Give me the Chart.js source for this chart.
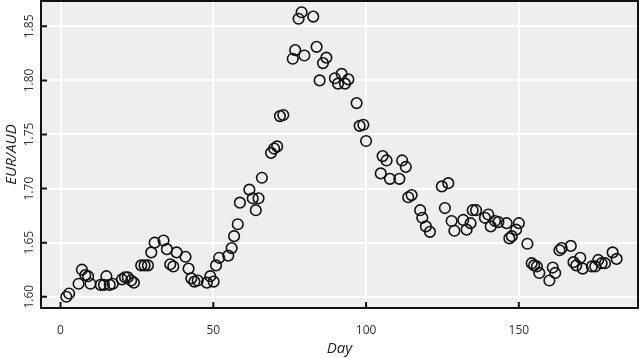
<!DOCTYPE html>
<html>
<head>
<meta charset="utf-8">
<script src="https://cdn.jsdelivr.net/npm/chart.js@4/dist/chart.umd.min.js"></script>
<style>
  body { margin: 0; background: #fff; }
  #chart { display: block; }
</style>
</head>
<body>
<canvas id="chart" width="640" height="358"></canvas>
<script>
// --- data ---
const days = [
  1.9, 2.8, 5.9, 7.0, 8.1, 9.0, 9.8, 13.1, 14.2, 15.0, 16.1, 17.1,
  20.1, 21.1, 22.0, 23.1, 24.0, 26.4, 27.5, 28.6, 29.7, 30.8, 33.7, 34.8,
  35.9, 36.9, 38.0, 40.9, 41.9, 42.8, 43.8, 44.9, 47.9, 49.0, 50.1, 50.9,
  51.9, 54.9, 56.0, 56.8, 58.0, 58.7, 61.8, 62.9, 63.9, 64.8, 65.9, 68.9,
  69.9, 70.9, 71.8, 72.9, 76.0, 76.8, 77.9, 78.9, 79.8, 82.7, 83.8, 84.8,
  85.9, 87.0, 89.8, 90.8, 92.0, 93.1, 94.2, 96.9, 97.9, 99.1, 100.0, 104.8,
  105.4, 106.7, 107.8, 110.9, 111.8, 113.0, 113.8, 114.9, 117.7, 118.4, 119.6, 120.9,
  124.8, 126.9, 125.8, 128.0, 128.9, 131.8, 132.9, 134.2, 134.9, 136.0, 138.9, 140.0,
  140.8, 142.2, 143.3, 146.0, 146.9, 147.7, 149.1, 150.0, 152.8, 154.2, 155.0, 155.9,
  156.7, 160.0, 161.1, 161.9, 163.3, 164.0, 167.0, 167.9, 168.8, 170.1, 170.9, 173.9,
  175.0, 176.0, 177.1, 178.2, 180.7, 182.0
];
const rates = [
  1.600, 1.603, 1.612, 1.625, 1.620, 1.619, 1.612, 1.611, 1.611, 1.619, 1.611, 1.612,
  1.616, 1.618, 1.618, 1.615, 1.613, 1.629, 1.629, 1.629, 1.641, 1.650, 1.652, 1.644,
  1.630, 1.628, 1.641, 1.637, 1.626, 1.617, 1.614, 1.615, 1.613, 1.619, 1.614, 1.629,
  1.636, 1.638, 1.645, 1.656, 1.667, 1.687, 1.699, 1.691, 1.680, 1.691, 1.710, 1.733,
  1.737, 1.739, 1.767, 1.768, 1.820, 1.828, 1.857, 1.863, 1.823, 1.859, 1.831, 1.800,
  1.816, 1.821, 1.802, 1.797, 1.806, 1.797, 1.801, 1.779, 1.758, 1.759, 1.744, 1.714,
  1.730, 1.726, 1.709, 1.709, 1.726, 1.720, 1.692, 1.694, 1.680, 1.673, 1.665, 1.660,
  1.702, 1.705, 1.682, 1.670, 1.661, 1.671, 1.662, 1.668, 1.680, 1.680, 1.673, 1.676,
  1.665, 1.670, 1.669, 1.668, 1.654, 1.656, 1.662, 1.668, 1.649, 1.631, 1.629, 1.628,
  1.622, 1.615, 1.627, 1.622, 1.643, 1.645, 1.647, 1.632, 1.629, 1.636, 1.626, 1.628,
  1.628, 1.634, 1.631, 1.631, 1.641, 1.635
];
const xTicks = [0, 50, 100, 150];
const yTicks = [1.60, 1.65, 1.70, 1.75, 1.80, 1.85];

const FONT = "'Open Sans', 'DejaVu Sans', sans-serif";

// grey panel underneath, black frame + short inward ticks on top
const panelPlugin = {
  id: 'panel',
  beforeDraw(chart) {
    const { ctx, chartArea: a } = chart;
    ctx.save();
    ctx.fillStyle = '#eeeeee';
    ctx.fillRect(a.left, a.top, a.right - a.left, a.bottom - a.top);
    ctx.restore();
  },
  afterDraw(chart) {
    const { ctx, chartArea: a, scales } = chart;
    ctx.save();
    ctx.strokeStyle = '#111';
    ctx.lineWidth = 2;
    ctx.strokeRect(a.left, a.top, a.right - a.left, a.bottom - a.top);
    ctx.beginPath();
    xTicks.forEach(v => {
      const x = scales.x.getPixelForValue(v);
      ctx.moveTo(x, a.bottom);
      ctx.lineTo(x, a.bottom - 6);
    });
    yTicks.forEach(v => {
      const y = scales.y.getPixelForValue(v);
      ctx.moveTo(a.left, y);
      ctx.lineTo(a.left + 6, y);
    });
    ctx.stroke();
    ctx.restore();
  }
};

// keep the axis boxes at fixed sizes, no extra label padding
function fixBox(s, w, h) {
  if (w != null) s.width = w;
  if (h != null) s.height = h;
  s.paddingTop = 0; s.paddingBottom = 0;
  s.paddingLeft = 0; s.paddingRight = 0;
}

new Chart(document.getElementById('chart'), {
  type: 'scatter',
  data: {
    datasets: [{
      data: days.map((d, i) => ({ x: d, y: rates[i] })),
      pointRadius: 5.3,
      pointHoverRadius: 5.3,
      borderWidth: 1.6,
      borderColor: '#111',
      backgroundColor: 'rgba(0,0,0,0)',
    }]
  },
  options: {
    responsive: false,
    animation: false,
    layout: { autoPadding: false, padding: { top: 1, right: 2, left: 0, bottom: 0 } },
    plugins: { legend: { display: false }, tooltip: { enabled: false } },
    scales: {
      x: {
        type: 'linear',
        min: -6.4,
        max: 189,
        afterFit: s => fixBox(s, null, 50),
        afterBuildTicks: s => { s.ticks = xTicks.map(v => ({ value: v })); },
        grid: { color: '#ffffff', lineWidth: 2, drawTicks: false },
        border: { display: false },
        ticks: { padding: 15, color: '#333', font: { family: FONT, size: 12 }, maxRotation: 0 },
        title: {
          display: true, text: 'Day', color: '#222',
          font: { family: FONT, size: 15, style: 'italic' },
          padding: { top: 0, bottom: 0 }
        }
      },
      y: {
        type: 'linear',
        min: 1.5896,
        max: 1.8734,
        afterFit: s => fixBox(s, 41, null),
        afterBuildTicks: s => { s.ticks = yTicks.map(v => ({ value: v })); },
        grid: { color: '#ffffff', lineWidth: 2, drawTicks: false },
        border: { display: false },
        ticks: {
          padding: 0, color: '#333', font: { family: FONT, size: 12 },
          minRotation: 90, maxRotation: 90, crossAlign: 'center',
          callback: v => v.toFixed(2)
        },
        title: {
          display: true, text: 'EUR/AUD', color: '#222',
          font: { family: FONT, size: 15, style: 'italic' },
          padding: { top: 3, bottom: 0 }
        }
      }
    }
  },
  plugins: [panelPlugin]
});
</script>
</body>
</html>
